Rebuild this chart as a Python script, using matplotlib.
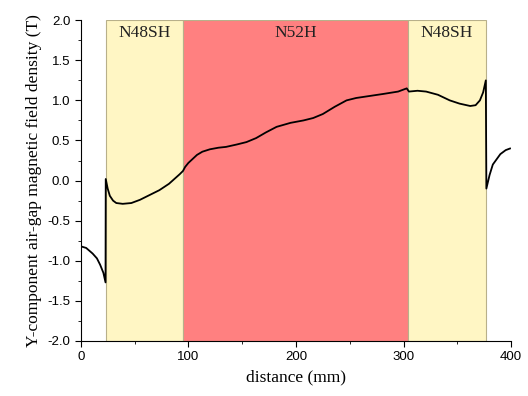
import matplotlib.pyplot as plt
from matplotlib.ticker import MultipleLocator

# magnet regions (mm)
regions = [(23, 95, 'N48SH'), (95, 304, 'N52H'), (304, 377, 'N48SH')]
region_colors = ['#fff6c4', '#ff8080', '#fff6c4']

# Y-component air-gap flux density
dist = [0, 5, 11, 15, 18, 21, 23, 23.2, 25, 27, 30, 33, 39, 47, 55, 64, 73, 82, 92, 95,
        97, 100, 104, 108, 113, 120, 128, 135, 145, 154, 163, 172, 182, 195, 207, 216, 225,
        236, 247, 256, 266, 281, 295, 303, 305, 313, 321, 332, 343, 352, 362, 367, 371, 374,
        376.5, 377, 380, 383, 390, 395, 399]
by = [-0.82, -0.84, -0.91, -0.97, -1.05, -1.15, -1.27, 0.02, -0.1, -0.19, -0.25, -0.28,
      -0.29, -0.28, -0.24, -0.18, -0.12, -0.04, 0.08, 0.12,
      0.17, 0.22, 0.27, 0.32, 0.36, 0.39, 0.41, 0.42, 0.45, 0.48, 0.53, 0.6, 0.67, 0.72,
      0.75, 0.78, 0.83, 0.92, 1.0, 1.03, 1.05, 1.08, 1.11, 1.15, 1.11, 1.12, 1.11, 1.07,
      1.0, 0.96, 0.93, 0.94, 1.0, 1.1, 1.25, -0.1, 0.07, 0.2, 0.33, 0.38, 0.4]

fig = plt.figure(figsize=(5.28, 3.96), dpi=100)
ax = fig.add_axes([0.153, 0.139, 0.815, 0.81])

for (x0, x1, name), c in zip(regions, region_colors):
    ax.axvspan(x0, x1, ymin=0, ymax=1, facecolor=c, edgecolor='#b8b08a', lw=0.8, zorder=0)
    ax.text((x0 + x1) / 2, 1.84, name, ha='center', va='center',
            fontfamily='Liberation Serif', fontsize=12.5, color='#222222')

ax.plot(dist, by, color='black', lw=1.3, zorder=3)

ax.set_xlim(0, 400)
ax.set_ylim(-2.0, 2.0)
ax.xaxis.set_major_locator(MultipleLocator(100))
ax.xaxis.set_minor_locator(MultipleLocator(50))
ax.yaxis.set_major_locator(MultipleLocator(0.5))
ax.yaxis.set_minor_locator(MultipleLocator(0.25))
ax.yaxis.set_major_formatter(plt.FuncFormatter(lambda v, p: f'{v:.1f}'))
ax.tick_params(which='both', direction='out', labelsize=9.5)
ax.tick_params(which='major', length=4)
ax.tick_params(which='minor', length=2.5)
for lab in ax.get_xticklabels() + ax.get_yticklabels():
    lab.set_fontfamily('Liberation Sans')

ax.spines['top'].set_visible(False)
ax.spines['right'].set_visible(False)

ax.set_xlabel('distance (mm)', fontfamily='Liberation Serif', fontsize=12.5)
ax.set_ylabel('Y-component air-gap magnetic field density (T)',
              fontfamily='Liberation Serif', fontsize=12.5)

fig.savefig('out.png', dpi=100)
